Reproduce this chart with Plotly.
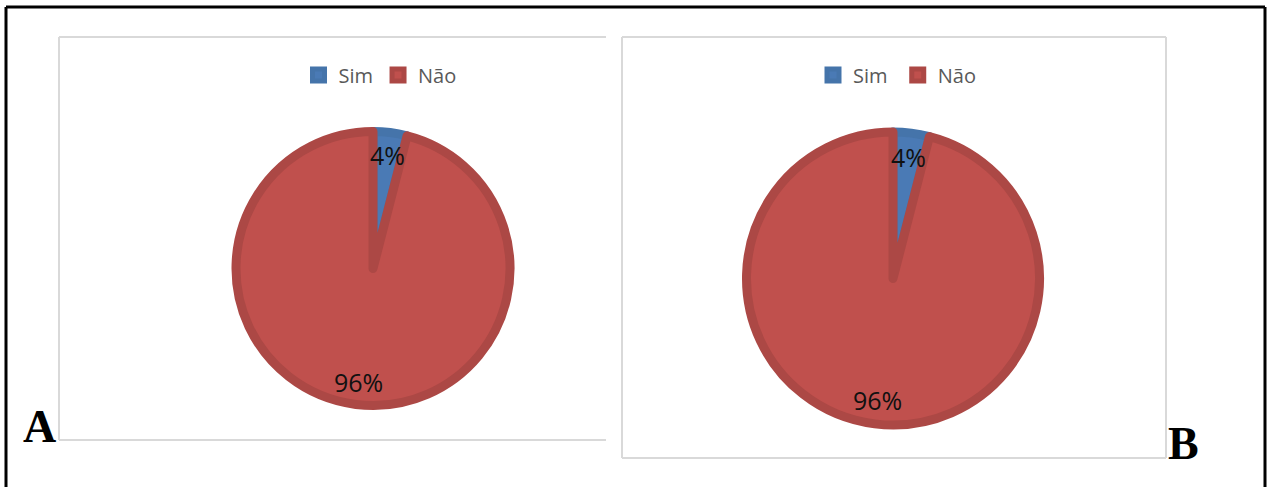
import math
import plotly.graph_objects as go

W, H = 1269, 487

labels = ["Sim", "Não"]
values_a = [4, 96]
values_b = [4, 96]
fill_colors = ["#4A7AB5", "#C0504D"]
line_colors = ["#4574AA", "#AC4845"]
LW = 9

# pie outer extents in pixels: (left, right, top, bottom)
pies_px = [(231, 515, 127, 410), (742, 1044, 127, 430)]

def dom(px):
    l, r, t, b = px
    h = LW / 2
    l, r, t, b = l + h, r - h, t + h, b - h
    return dict(x=[l / W, r / W], y=[1 - b / H, 1 - t / H])

fig = go.Figure()
for i, (vals, px) in enumerate(zip([values_a, values_b], pies_px)):
    # second pie's labels get a trailing space so it owns its own legend items
    labs = labels if i == 0 else [s + " " for s in labels]
    fig.add_trace(go.Pie(
        labels=labs, values=vals, sort=False, direction="clockwise", rotation=0,
        domain=dom(px), textinfo="none", hoverinfo="label+percent",
        marker=dict(colors=fill_colors, line=dict(color=line_colors, width=LW)),
        legend="legend" if i == 0 else "legend2",
    ))

annotations = []
for vals, px in zip([values_a, values_b], pies_px):
    l, r, t, b = px
    cx, cy = (l + r) / 2, (t + b) / 2
    R = min(r - l, b - t) / 2
    total = sum(vals)
    start = 0.0
    for v in vals:
        frac = v / total
        mid = (start + frac / 2) * 2 * math.pi
        start += frac
        rr = 0.81 * R
        x = cx + rr * math.sin(mid)
        y = cy - rr * math.cos(mid)
        annotations.append(dict(
            x=x / W, y=1 - y / H, xref="paper", yref="paper", showarrow=False,
            text=f"{round(frac * 100)}%", xanchor="center", yanchor="middle",
            font=dict(family="Open Sans, Lato, sans-serif", size=25, color="#111111"),
        ))

# panel letters
annotations.append(dict(x=40 / W, y=1 - 426 / H, xref="paper", yref="paper", showarrow=False,
                        text="<b>A</b>", xanchor="center", yanchor="middle",
                        font=dict(family="Liberation Serif, Times New Roman, serif", size=46, color="black")))
annotations.append(dict(x=1183 / W, y=1 - 443 / H, xref="paper", yref="paper", showarrow=False,
                        text="<b>B</b>", xanchor="center", yanchor="middle",
                        font=dict(family="Liberation Serif, Times New Roman, serif", size=46, color="black")))

def px_line(x0, y0, x1, y1, color, width):
    return dict(type="line", xref="paper", yref="paper",
                x0=x0 / W, x1=x1 / W, y0=1 - y0 / H, y1=1 - y1 / H,
                line=dict(color=color, width=width))

gray = "#D9D9D9"
shapes = [
    # outer black frame
    px_line(6, 7, 1265, 7, "black", 3),
    px_line(6, 7, 6, 495, "black", 3),
    px_line(1265, 7, 1265, 495, "black", 3),
    # panel A frame (open on the right)
    px_line(59, 37, 606, 37, gray, 2),
    px_line(59, 440, 606, 440, gray, 2),
    px_line(59, 37, 59, 440, gray, 2),
    # panel B frame
    px_line(622, 37, 1166, 37, gray, 2),
    px_line(622, 458, 1166, 458, gray, 2),
    px_line(622, 37, 622, 458, gray, 2),
    px_line(1166, 37, 1166, 458, gray, 2),
]

legend_font = dict(family="Open Sans, Lato, sans-serif", size=20, color="#595959")
fig.update_layout(
    width=W, height=H, margin=dict(l=0, r=0, t=0, b=0),
    paper_bgcolor="white", plot_bgcolor="white",
    annotations=annotations, shapes=shapes,
    legend=dict(orientation="h", x=380 / W, y=1 - 75 / H, xanchor="center", yanchor="middle",
                font=legend_font, itemwidth=30, traceorder="normal", bgcolor="rgba(0,0,0,0)"),
    legend2=dict(orientation="h", x=900 / W, y=1 - 75 / H, xanchor="center", yanchor="middle",
                 font=legend_font, itemwidth=30, traceorder="normal", bgcolor="rgba(0,0,0,0)"),
    showlegend=True,
)

fig.write_html("out.html", config={"displayModeBar": False},
               post_script="document.body.style.margin='0';document.body.style.padding='0';")
